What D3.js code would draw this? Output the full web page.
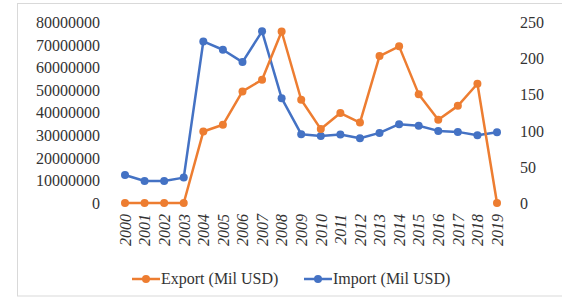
<!DOCTYPE html>
<html><head><meta charset="utf-8">
<script src="https://cdn.jsdelivr.net/npm/d3@7/dist/d3.min.js"></script>
<style>body{margin:0;background:#fff}svg{display:block}</style>
</head><body>
<svg id="c" width="562" height="300"></svg>
<script>
const years = ["2000","2001","2002","2003","2004","2005","2006","2007","2008","2009","2010","2011","2012","2013","2014","2015","2016","2017","2018","2019"];
const exportVals = [0,0,0,0,31700000,34700000,49500000,54700000,76100000,45800000,32800000,39900000,35700000,65200000,69500000,48300000,36900000,43100000,52900000,0];
const importVals = [38.9,30.6,30.6,35.2,224,212.5,195.4,238,145.4,95.4,93,94.9,89.8,97.2,109.3,107,100,98.6,94,98.2];
const leftTicks = [0,10000000,20000000,30000000,40000000,50000000,60000000,70000000,80000000];
const rightTicks = [0,50,100,150,200,250];
const seriesNames = ["Export (Mil USD)","Import (Mil USD)"];
const colors = ["#ED7D31","#4472C4"];

const svg = d3.select("#c");
const font = "'Liberation Serif','Times New Roman',serif";
svg.append("rect").attr("x",17.5).attr("y",3.5).attr("width",600).attr("height",292.5)
  .attr("fill","#fff").attr("stroke","#d9d9d9");

const x = d3.scalePoint().domain(years).range([125,497]);
const yL = d3.scaleLinear().domain([0,80000000]).range([203,22.7]);
const yR = d3.scaleLinear().domain([0,250]).range([203,22.7]);

const axL = svg.append("g").attr("transform","translate(104,0)")
  .call(d3.axisLeft(yL).tickValues(leftTicks).tickSize(0).tickPadding(4).tickFormat(d3.format("d")));
const axR = svg.append("g").attr("transform","translate(516,0)")
  .call(d3.axisRight(yR).tickValues(rightTicks).tickSize(0).tickPadding(4).tickFormat(d3.format("d")));
const axB = svg.append("g").attr("transform","translate(0,214)")
  .call(d3.axisBottom(x).tickSize(0).tickPadding(0));
[axL,axR,axB].forEach(a=>{a.select(".domain").remove();
  a.selectAll("text").attr("font-family",font).attr("font-size",16).attr("fill","#333");});
axB.selectAll("text").attr("transform","rotate(-90)").attr("text-anchor","end")
  .attr("x",0).attr("y",0).attr("dy","0.33em").attr("dx",0).attr("font-style","italic");

function drawSeries(vals, y, color){
  const line = d3.line().x((d,i)=>x(years[i])).y(d=>y(d));
  svg.append("path").datum(vals).attr("d",line).attr("fill","none")
    .attr("stroke",color).attr("stroke-width",2.5).attr("stroke-linejoin","round");
  svg.append("g").selectAll("circle").data(vals).join("circle")
    .attr("cx",(d,i)=>x(years[i])).attr("cy",d=>y(d)).attr("r",4).attr("fill",color);
}
drawSeries(importVals, yR, colors[1]);
drawSeries(exportVals, yL, colors[0]);

const legX = [132,304];
seriesNames.forEach((n,i)=>{
  const g = svg.append("g").attr("transform",`translate(${legX[i]},279)`);
  g.append("line").attr("x1",0).attr("x2",28).attr("stroke",colors[i]).attr("stroke-width",2.5);
  g.append("circle").attr("cx",14).attr("r",4).attr("fill",colors[i]);
  g.append("text").attr("x",29).attr("dy","0.33em").attr("font-family",font).attr("font-size",16)
    .attr("fill","#333").text(n);
});
</script>
</body></html>
